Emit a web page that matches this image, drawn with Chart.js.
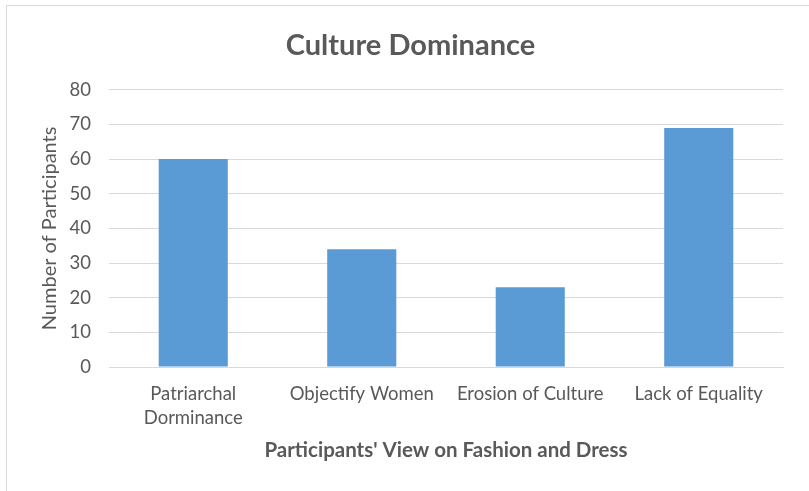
<!DOCTYPE html>
<html>
<head>
<meta charset="utf-8">
<script src="https://cdn.jsdelivr.net/npm/chart.js@4/dist/chart.umd.min.js"></script>
<style>
  html, body { margin: 0; padding: 0; background: #fff; overflow: hidden; }
  #wrap { position: relative; width: 809px; height: 491px; }
  #frame { position: absolute; left: 6px; top: 5px; width: 810px; height: 500px; border: 1px solid #d9d9d9; box-sizing: border-box; }
  #culture-chart { position: absolute; left: 0; top: 0; }
</style>
</head>
<body>
<div id="wrap">
  <div id="frame"></div>
  <canvas id="culture-chart" width="809" height="491"></canvas>
</div>
<script>
// data
const categories = [['Patriarchal', 'Dorminance'], 'Objectify Women', 'Erosion of Culture', 'Lack of Equality'];
const participants = [60, 34, 23, 69];
const yTicks = [0, 10, 20, 30, 40, 50, 60, 70, 80];

const textColor = '#595959';
const fontFamily = 'Lato, "Open Sans", sans-serif';

const ctx = document.getElementById('culture-chart').getContext('2d');

new Chart(ctx, {
  type: 'bar',
  data: {
    labels: categories,
    datasets: [{
      label: 'Participants',
      data: participants,
      backgroundColor: '#5b9bd5',
      borderWidth: 0,
      barPercentage: 0.41,
      categoryPercentage: 1
    }]
  },
  options: {
    responsive: false,
    animation: false,
    layout: {
      padding: { left: 38, right: 26, top: 0, bottom: 0 }
    },
    scales: {
      x: {
        grid: { display: false, drawTicks: false },
        border: { color: '#d9d9d9', width: 1 },
        ticks: {
          color: textColor,
          padding: 15,
          maxRotation: 0,
          autoSkip: false,
          font: { family: fontFamily, size: 18.5, lineHeight: 1.3 }
        },
        title: {
          display: true,
          text: "Participants' View on Fashion and Dress",
          color: textColor,
          padding: { top: 0, bottom: 28 },
          font: { family: fontFamily, size: 20.5, weight: 'bold', lineHeight: 1.2 }
        },
        afterFit: function(scale) {
          scale.height = 124;
        }
      },
      y: {
        min: 0,
        max: 80,
        afterBuildTicks: function(scale) {
          scale.ticks = yTicks.map(v => ({ value: v }));
        },
        grid: { color: '#d9d9d9', lineWidth: 1, drawTicks: false },
        border: { display: false },
        ticks: {
          color: textColor,
          padding: 18,
          font: { family: fontFamily, size: 18.5 }
        },
        title: {
          display: true,
          text: 'Number of Participants',
          color: textColor,
          padding: { top: 0, bottom: 0 },
          font: { family: fontFamily, size: 20, lineHeight: 1.2 }
        },
        afterFit: function(scale) {
          scale.width = 71;
        }
      }
    },
    plugins: {
      legend: { display: false },
      tooltip: { enabled: false },
      title: {
        display: true,
        text: 'Culture Dominance',
        color: textColor,
        padding: { top: 28, bottom: 27 },
        font: { family: fontFamily, size: 29, weight: 'bold', lineHeight: 1.2 }
      }
    }
  }
});
</script>
</body>
</html>
